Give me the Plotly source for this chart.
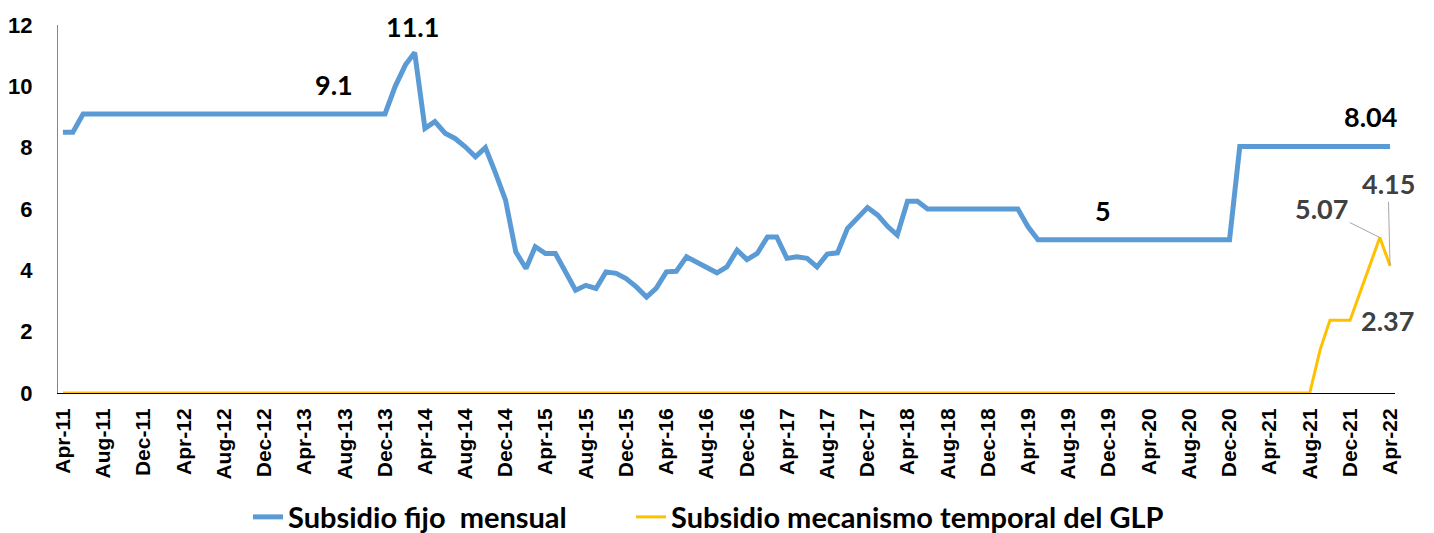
import pandas as pd
import plotly.graph_objects as go

# monthly series, Apr-2011 .. Apr-2022
START_MONTH = "2011-04-01"
N_MONTHS = 133

fijo = (
    [8.5, 8.5]
    + [9.1] * 31
    + [10.0, 10.7, 11.1]
    + [8.63, 8.85, 8.47, 8.3, 8.03, 7.7, 8.0, 7.16, 6.29, 4.6,
       4.06, 4.77, 4.55, 4.55, 3.98, 3.35, 3.51, 3.41, 3.95, 3.9,
       3.73, 3.46, 3.13, 3.41, 3.95, 3.97, 4.44, 4.28, 4.11, 3.92,
       4.11, 4.66, 4.35, 4.55, 5.09, 5.09, 4.39, 4.44, 4.39, 4.11,
       4.53, 4.57, 5.36, 5.69, 6.05, 5.8, 5.42, 5.15, 6.25, 6.25,
       6.0]
    + [6.0] * 9
    + [5.42]
    + [5.0] * 20
    + [8.04] * 16
)

mecanismo = [0.0] * 125 + [1.4, 2.37, 2.37, 2.37, 3.3, 4.2, 5.07, 4.15]

# labelled points: (month index, dx, dy[, leader line])
fijo_labels = [(27, 0, 29), (35, -2, 26), (103, 4, 29), (132, -20, 30)]
mec_labels = [(131, -58, 29, True), (132, -2, 82, True), (128, 37, 0, False)]

BLUE = "#5B9BD5"
GOLD = "#FFC000"
LABEL_FONT = "Lato, 'Open Sans', sans-serif"
TICK_FONT = "Liberation Sans, Arial, sans-serif"

months = pd.date_range(START_MONTH, periods=N_MONTHS, freq="MS")

fig = go.Figure()
fig.add_trace(
    go.Scatter(
        x=months,
        y=fijo,
        mode="lines",
        name="Subsidio fijo  mensual",
        line=dict(color=BLUE, width=5),
        legend="legend",
    )
)
fig.add_trace(
    go.Scatter(
        x=months,
        y=mecanismo,
        mode="lines",
        name="Subsidio mecanismo temporal del GLP",
        line=dict(color=GOLD, width=3),
        legend="legend2",
    )
)

annotations = []
for i, dx, dy in fijo_labels:
    v = fijo[i]
    annotations.append(
        dict(
            x=months[i], y=v, text=f"{v:g}", showarrow=False,
            xshift=dx, yshift=dy, borderpad=0,
            font=dict(family=LABEL_FONT, size=27, color="#000000", weight="bold"),
        )
    )
for i, dx, dy, arrow in mec_labels:
    v = mecanismo[i]
    ann = dict(
        x=months[i], y=v, text=f"{v:.2f}",
        font=dict(family=LABEL_FONT, size=27, color="#404040", weight="bold"),
    )
    if arrow:
        ann.update(showarrow=True, arrowhead=0, arrowwidth=1,
                   arrowcolor="#A6A6A6", ax=dx, ay=-dy, standoff=0)
    else:
        ann.update(showarrow=False, xshift=dx, yshift=dy)
    annotations.append(ann)

legend_style = dict(
    orientation="h",
    xref="container",
    xanchor="left",
    yref="container",
    y=0.045,
    yanchor="middle",
    font=dict(family=LABEL_FONT, size=29, color="#000000", weight="bold"),
    itemwidth=30,
    bgcolor="rgba(0,0,0,0)",
)

fig.update_layout(
    width=1434,
    height=533,
    paper_bgcolor="white",
    plot_bgcolor="white",
    # page body adds an 8px offset, margins compensate for it
    margin=dict(l=50, r=47, t=17, b=148, autoexpand=False),
    showlegend=True,
    legend=dict(legend_style, x=240 / 1434),
    legend2=dict(legend_style, x=623 / 1434),
    xaxis=dict(
        type="date",
        range=["2011-03-17", "2022-04-16"],
        tick0=START_MONTH,
        dtick="M4",
        tickformat="%b-%y",
        tickangle=-90,
        showgrid=False,
        zeroline=False,
        showline=True,
        linecolor="#000000",
        linewidth=1,
        ticks="",
        layer="below traces",
        automargin=False,
        ticklabelstandoff=6,
        tickfont=dict(family=TICK_FONT, size=21, color="#000000", weight="bold"),
    ),
    yaxis=dict(
        range=[0, 12],
        dtick=2,
        showgrid=False,
        zeroline=False,
        showline=True,
        linecolor="#868686",
        linewidth=1,
        ticks="",
        automargin=False,
        ticklabelstandoff=20,
        tickfont=dict(family=TICK_FONT, size=22, color="#000000", weight="bold"),
    ),
    annotations=annotations,
)

fig.write_html("out.html")
